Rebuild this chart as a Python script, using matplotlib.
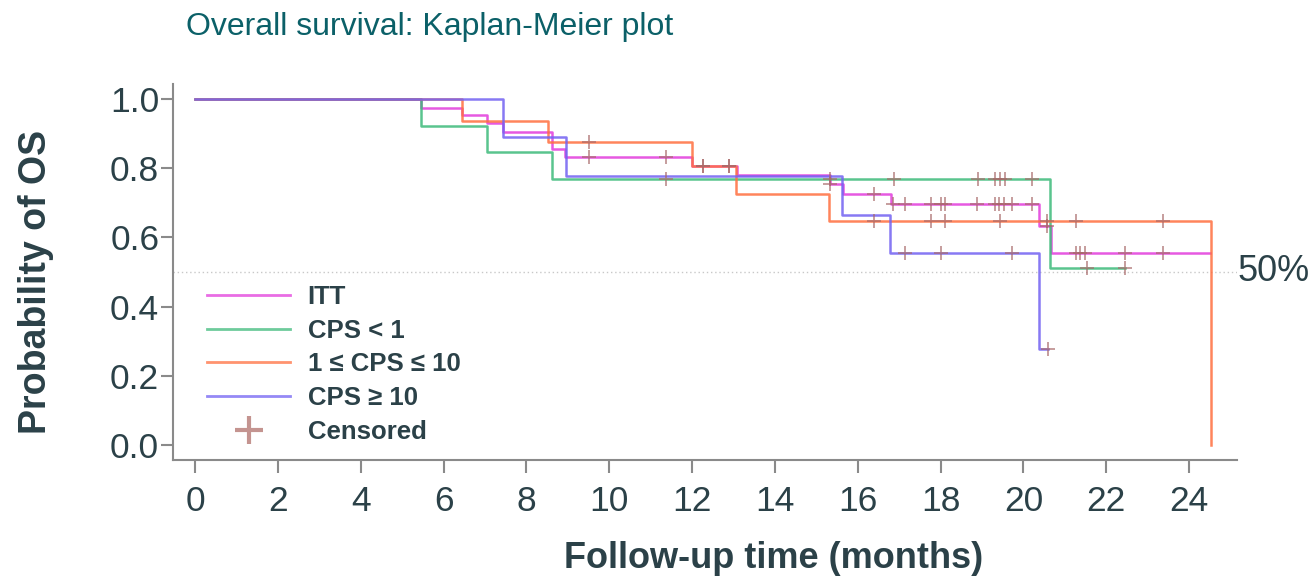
import numpy as np
import matplotlib
matplotlib.use("Agg")
from matplotlib import pyplot as plt
from matplotlib.lines import Line2D

plt.rcParams['font.family'] = ['Liberation Sans', 'DejaVu Sans']

# step curves: event times (months) and survival after each step
itt_t = [0, 5.46, 6.45, 7.04, 7.44, 8.61, 8.93, 12.0, 13.08, 15.33, 15.64, 16.8, 20.38, 20.66]
itt_s = [1.0, 0.975, 0.953, 0.930, 0.904, 0.855, 0.832, 0.807, 0.779, 0.754, 0.726, 0.697, 0.633, 0.554]
itt_end = 24.5
itt_cens = [9.50, 11.36, 12.27, 12.88, 15.33, 16.39, 16.86, 17.14, 17.77, 18.0, 18.11, 18.87,
            19.31, 19.42, 19.53, 19.72, 20.21, 20.56, 21.28, 21.36, 21.49, 22.45, 23.38]

low_t = [0, 5.46, 7.04, 8.61, 20.64]
low_s = [1.0, 0.923, 0.847, 0.770, 0.512]
low_end = 22.45
low_cens = [11.36, 15.33, 16.88, 18.9, 19.31, 19.43, 19.56, 20.21, 21.53, 22.45]

mid_t = [0, 6.45, 8.53, 12.0, 13.06, 15.31, 24.52]
mid_s = [1.0, 0.936, 0.876, 0.807, 0.725, 0.646, 0.0]
mid_end = 24.52
mid_cens = [9.50, 12.27, 12.88, 16.39, 17.77, 18.11, 19.43, 20.56, 21.27, 23.38]

high_t = [0, 7.44, 8.95, 15.63, 16.78, 20.38]
high_s = [1.0, 0.889, 0.777, 0.666, 0.555, 0.277]
high_end = 20.6
high_cens = [17.14, 18.01, 19.73, 20.6]

labels = ['ITT', 'CPS < 1', '1 \u2264 CPS \u2264 10', 'CPS \u2265 10']
colors = ['#e23cdc', '#3dba7a', '#ff6f3f', '#7262f2']

text_col = '#2b4148'
cens_col = '#a86868'

groups = [
    (itt_t, itt_s, itt_end, itt_cens),
    (low_t, low_s, low_end, low_cens),
    (mid_t, mid_s, mid_end, mid_cens),
    (high_t, high_s, high_end, high_cens),
]

fig = plt.figure(figsize=(13.15, 5.8), dpi=100)
ax = fig.add_axes([0.1316, 0.2069, 0.8091, 0.6483])

ax.axhline(0.5, color='#c8c8c8', lw=1, ls=(0, (1, 2)), zorder=1)

handles = []
for (t, s, end, cens), lab, col in zip(groups, labels, colors):
    xs = list(t) + [end]
    ys = list(s) + [s[-1]]
    ax.step(xs, ys, where='post', color=col, lw=1.8, alpha=0.85, zorder=3)
    idx = np.searchsorted(np.array(t), np.array(cens), side='right') - 1
    cy = np.array(s)[idx]
    ax.plot(cens, cy, ls='none', marker='+', ms=10, mew=1.3,
            color=cens_col, alpha=0.7, zorder=4)
    handles.append(Line2D([], [], color=col, lw=2, alpha=0.75, label=lab))

handles.append(Line2D([], [], ls='none', marker='+', ms=20, mew=3,
                      color='#c49490', label='Censored'))

ax.set_xlim(-0.531, 25.157)
ax.set_ylim(-0.0434, 1.0434)
ax.set_xticks(np.arange(0, 25, 2))
ax.set_yticks([0.0, 0.2, 0.4, 0.6, 0.8, 1.0])
ax.set_yticklabels(['0.0', '0.2', '0.4', '0.6', '0.8', '1.0'])

for side in ['top', 'right']:
    ax.spines[side].set_visible(False)
for side in ['left', 'bottom']:
    ax.spines[side].set_color('#8a8a8a')
    ax.spines[side].set_linewidth(1.5)

ax.tick_params(axis='both', colors='#8a8a8a', labelcolor=text_col,
               labelsize=25.5, length=9, width=1.5)
ax.tick_params(axis='y', pad=1)
ax.tick_params(axis='x', pad=9)

# axis titles placed in figure coordinates
fig.text(0.588, 0.037, 'Follow-up time (months)', fontsize=26, fontweight='bold',
         color=text_col, ha='center', va='center')
fig.text(0.027, 0.514, 'Probability of OS', fontsize=27, fontweight='bold',
         color=text_col, ha='center', va='center', rotation=90)

ax.text(25.16, 0.5, '50%', fontsize=26, color=text_col, ha='left',
        va='center', clip_on=False)

leg = ax.legend(handles=handles, loc='upper left', bbox_to_anchor=(0.0106, 0.527),
                frameon=False, handlelength=3.2, handletextpad=0.7,
                labelspacing=0.38, prop={'size': 18.5, 'weight': 'bold'})
for txt in leg.get_texts():
    txt.set_color(text_col)

fig.text(0.1414, 0.953, 'Overall survival: Kaplan-Meier plot', fontsize=23,
         color='#0b6068', ha='left', va='center')

fig.savefig('out.png', dpi=100)
